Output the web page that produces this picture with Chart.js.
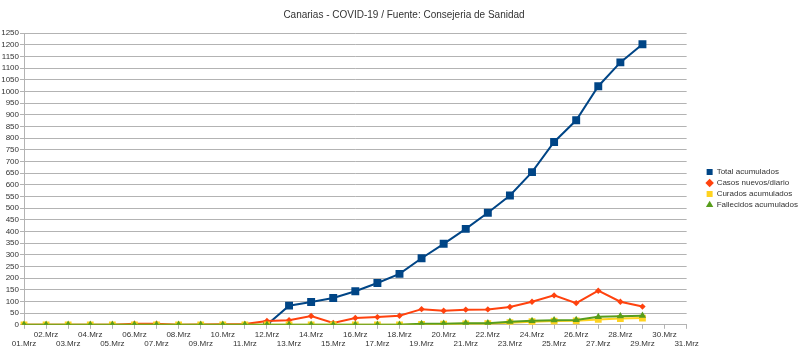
<!DOCTYPE html>
<html>
<head>
<meta charset="utf-8">
<script src="https://cdn.jsdelivr.net/npm/chart.js@4.4.1/dist/chart.umd.min.js"></script>
<style>
  html, body { margin: 0; padding: 0; background: #fff; }
  #wrap { width: 800px; height: 353px; }
</style>
</head>
<body>
<div id="wrap"><canvas id="covidChart"></canvas></div>
<script>
const DAYS = ['01.Mrz', '02.Mrz', '03.Mrz', '04.Mrz', '05.Mrz', '06.Mrz', '07.Mrz', '08.Mrz',
  '09.Mrz', '10.Mrz', '11.Mrz', '12.Mrz', '13.Mrz', '14.Mrz', '15.Mrz', '16.Mrz', '17.Mrz',
  '18.Mrz', '19.Mrz', '20.Mrz', '21.Mrz', '22.Mrz', '23.Mrz', '24.Mrz', '25.Mrz', '26.Mrz',
  '27.Mrz', '28.Mrz', '29.Mrz', '30.Mrz', '31.Mrz'];

const TOTAL_ACUMULADOS = [null, null, null, null, null, null, null, null, null, null, null,
  0, 82, 98, 115, 144, 179, 218, 285, 347, 411, 480, 554, 654, 783, 876, 1022, 1124, 1202];
const CASOS_NUEVOS = [0, 0, 0, 0, 0, 5, 5, 0, 1, 2, 3, 16, 20, 38, 8, 29, 33, 39,
  67, 60, 65, 66, 76, 99, 126, 93, 146, 99, 78];
const CURADOS = [0, 0, 0, 0, 0, 0, 0, 0, 0, 0, 0, 0, 0, 0, 0, 0, 0, 0,
  2, 3, 4, 5, 9, 13, 16, 17, 23, 27, 29];
const FALLECIDOS = [0, 0, 0, 0, 0, 0, 0, 0, 0, 0, 0, 0, 0, 0, 0, 0, 0, 0,
  4, 5, 7, 7, 13, 17, 20, 21, 34, 37, 39];

const TITLE = 'Canarias - COVID-19 / Fuente: Consejeria de Sanidad';
const FONT = 'Liberation Sans, Arial, sans-serif';
const TEXT_COLOR = '#333333';
const GRID_COLOR = '#b3b3b3';

// LibreOffice default palette
const series = [
  { label: 'Total acumulados', data: TOTAL_ACUMULADOS, color: '#004586', style: 'rect', radius: 5.6, order: 3 },
  { label: 'Casos nuevos/diario', data: CASOS_NUEVOS, color: '#ff420e', style: 'rectRot', radius: 3.2, order: 2 },
  { label: 'Curados acumulados', data: CURADOS, color: '#ffd320', style: 'rect', radius: 4.8, order: 1 },
  { label: 'Fallecidos acumulados', data: FALLECIDOS, color: '#579d1c', style: 'triangle', radius: 4.2, order: 0 },
];

const ctx = document.getElementById('covidChart').getContext('2d');
const covidChart = new Chart(ctx, {
  type: 'line',
  data: {
    labels: DAYS,
    datasets: series.map(s => ({
      label: s.label,
      data: s.data,
      borderColor: s.color,
      backgroundColor: s.color,
      borderWidth: 2,
      pointStyle: s.style,
      pointRadius: s.radius,
      pointBorderWidth: 0,
      pointHoverRadius: s.radius,
      order: s.order,
      tension: 0,
      yAxisID: 'y',
    })),
  },
  options: {
    responsive: true,
    maintainAspectRatio: false,
    animation: false,
    layout: { padding: { left: 0, right: -8, top: 5, bottom: 3 } },
    plugins: {
      title: {
        display: true,
        text: TITLE,
        color: TEXT_COLOR,
        font: { family: FONT, size: 10, weight: 'normal' },
        padding: { top: 4, bottom: 12 },
      },
      legend: {
        position: 'right',
        align: 'center',
        title: { display: true, text: ' ', font: { size: 10 }, padding: 5 },
        labels: {
          color: TEXT_COLOR,
          font: { family: FONT, size: 8 },
          usePointStyle: true,
          boxWidth: 6,
          boxHeight: 6,
          padding: 3,
          sort: (a, b) => a.datasetIndex - b.datasetIndex,
        },
      },
      tooltip: { enabled: false },
    },
    scales: {
      x: {
        offset: false,
        grid: { display: true, drawOnChartArea: false, drawTicks: true, tickLength: 4, color: GRID_COLOR },
        border: { color: GRID_COLOR },
        ticks: {
          autoSkip: false,
          maxRotation: 0,
          minRotation: 0,
          padding: 1,
          color: TEXT_COLOR,
          font: { family: FONT, size: 8 },
          callback: (value, index) => index % 2 === 1 ? [DAYS[index], ''] : ['', DAYS[index]],
        },
      },
      y: {
        min: 0,
        max: 1250,
        afterFit: scale => { scale.width = 24; },
        grid: { color: GRID_COLOR, tickLength: 4 },
        border: { color: GRID_COLOR },
        ticks: {
          stepSize: 50,
          autoSkip: false,
          padding: 1,
          color: TEXT_COLOR,
          font: { family: FONT, size: 8 },
          callback: value => String(value),
        },
      },
      // empty spacer between plot and legend
      gap: {
        position: 'right',
        display: true,
        afterFit: scale => { scale.width = 17; },
        grid: { display: false },
        border: { display: false },
        ticks: { display: false },
      },
    },
  },
});
</script>
</body>
</html>
